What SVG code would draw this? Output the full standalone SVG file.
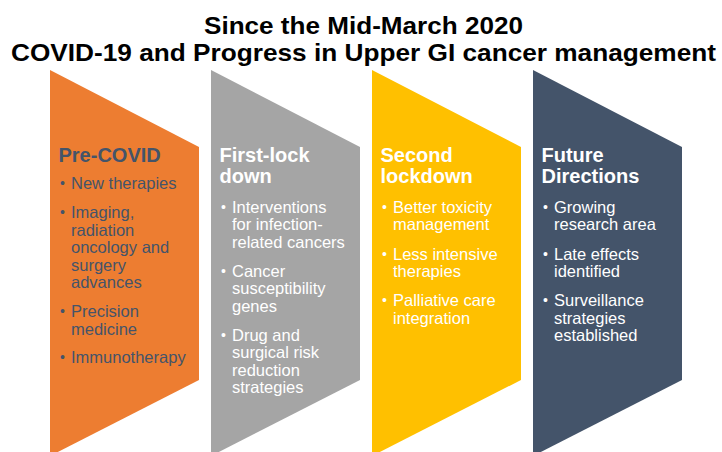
<svg xmlns="http://www.w3.org/2000/svg" width="722" height="452" viewBox="0 0 722 452">
  <style>
    text { font-family: "Liberation Sans", Arial, sans-serif; }
    .title { font-size: 24px; font-weight: bold; fill: #000; }
    .head { font-size: 20px; font-weight: bold; }
    .item { font-size: 16.5px; }
    .dot { font-size: 14px; }
    .dark { fill: #44546A; }
    .light { fill: #FFFFFF; }
  </style>
  <defs>
    <!-- chevron-like panel: flat left edge, pointed right side -->
    <polygon id="panel" points="0,70 149,147 149,380 0,456"/>
  </defs>
  <rect width="722" height="452" fill="#FFFFFF"/>

  <g id="title">
    <text class="title" x="204" y="34" textLength="319" lengthAdjust="spacingAndGlyphs">Since the Mid-March 2020</text>
    <text class="title" x="11" y="61" textLength="705" lengthAdjust="spacingAndGlyphs">COVID-19 and Progress in Upper GI cancer management</text>
  </g>

  <g id="connectors"/>

  <g id="pre-covid">
    <use href="#panel" x="50" fill="#ED7D31"/>
    <g class="dark">
      <text class="head" x="58.5" y="161.7">Pre-COVID</text>
      <text class="dot" x="60" y="188">•</text>
      <text class="item" x="71" y="189">New therapies</text>
      <text class="dot" x="60" y="217">•</text>
      <text class="item" x="71" y="218">Imaging,</text>
      <text class="item" x="71" y="235.5">radiation</text>
      <text class="item" x="71" y="253">oncology and</text>
      <text class="item" x="71" y="270.5">surgery</text>
      <text class="item" x="71" y="288">advances</text>
      <text class="dot" x="60" y="316">•</text>
      <text class="item" x="71" y="317">Precision</text>
      <text class="item" x="71" y="334.5">medicine</text>
      <text class="dot" x="60" y="362">•</text>
      <text class="item" x="71" y="363">Immunotherapy</text>
    </g>
  </g>

  <g id="first-lockdown">
    <use href="#panel" x="211" fill="#A5A5A5"/>
    <g class="light">
      <text class="head" x="219.5" y="161.7">First-lock</text>
      <text class="head" x="219.5" y="183.4">down</text>
      <text class="dot" x="221" y="211.7">•</text>
      <text class="item" x="232" y="212.7">Interventions</text>
      <text class="item" x="232" y="230.2">for infection-</text>
      <text class="item" x="232" y="247.7">related cancers</text>
      <text class="dot" x="221" y="275.7">•</text>
      <text class="item" x="232" y="276.7">Cancer</text>
      <text class="item" x="232" y="294.2">susceptibility</text>
      <text class="item" x="232" y="311.7">genes</text>
      <text class="dot" x="221" y="339.7">•</text>
      <text class="item" x="232" y="340.7">Drug and</text>
      <text class="item" x="232" y="358.2">surgical risk</text>
      <text class="item" x="232" y="375.7">reduction</text>
      <text class="item" x="232" y="393.2">strategies</text>
    </g>
  </g>

  <g id="second-lockdown">
    <use href="#panel" x="372" fill="#FFC000"/>
    <g class="light">
      <text class="head" x="380.5" y="161.7">Second</text>
      <text class="head" x="380.5" y="183.4">lockdown</text>
      <text class="dot" x="382" y="211.7">•</text>
      <text class="item" x="393" y="212.7">Better toxicity</text>
      <text class="item" x="393" y="230.2">management</text>
      <text class="dot" x="382" y="258.7">•</text>
      <text class="item" x="393" y="259.7">Less intensive</text>
      <text class="item" x="393" y="277.2">therapies</text>
      <text class="dot" x="382" y="305.2">•</text>
      <text class="item" x="393" y="306.2">Palliative care</text>
      <text class="item" x="393" y="323.7">integration</text>
    </g>
  </g>

  <g id="future-directions">
    <use href="#panel" x="533" fill="#44546A"/>
    <g class="light">
      <text class="head" x="541.5" y="161.7">Future</text>
      <text class="head" x="541.5" y="183.4">Directions</text>
      <text class="dot" x="543" y="211.7">•</text>
      <text class="item" x="554" y="212.7">Growing</text>
      <text class="item" x="554" y="230.2">research area</text>
      <text class="dot" x="543" y="258.7">•</text>
      <text class="item" x="554" y="259.7">Late effects</text>
      <text class="item" x="554" y="277.2">identified</text>
      <text class="dot" x="543" y="305.2">•</text>
      <text class="item" x="554" y="306.2">Surveillance</text>
      <text class="item" x="554" y="323.7">strategies</text>
      <text class="item" x="554" y="341.2">established</text>
    </g>
  </g>
</svg>
